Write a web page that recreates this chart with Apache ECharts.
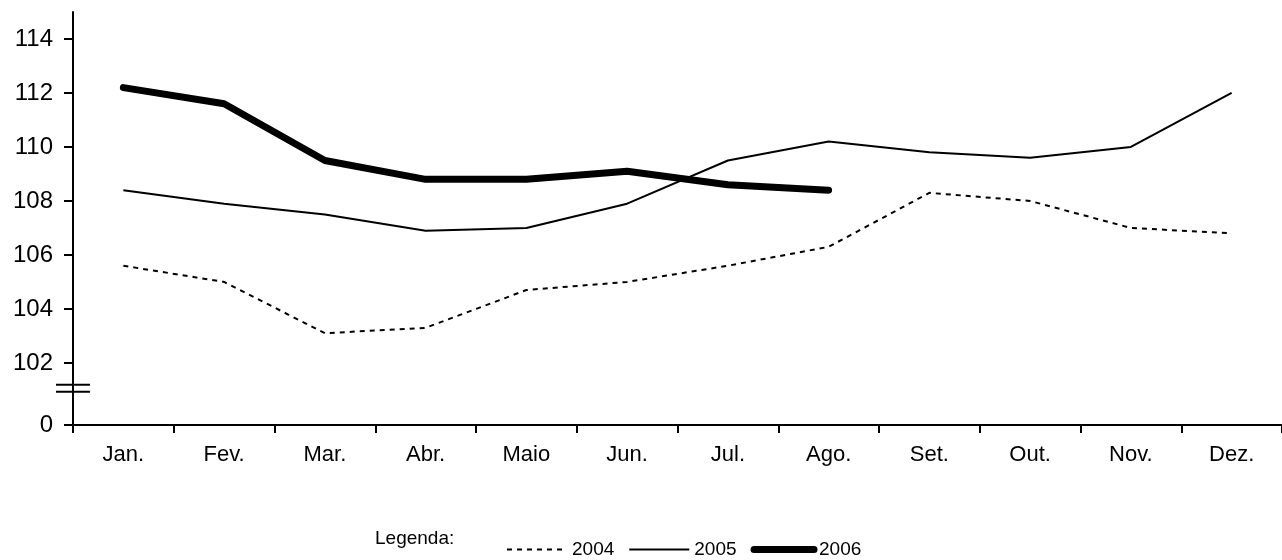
<!DOCTYPE html>
<html>
<head>
<meta charset="utf-8">
<script src="https://cdn.jsdelivr.net/npm/echarts@6/dist/echarts.min.js"></script>
<style>
  html, body { margin: 0; padding: 0; background: #fff; }
  #chart { width: 1282px; height: 560px; }
</style>
</head>
<body>
<div id="chart"></div>
<script>
var months = ['Jan.', 'Fev.', 'Mar.', 'Abr.', 'Maio', 'Jun.', 'Jul.', 'Ago.', 'Set.', 'Out.', 'Nov.', 'Dez.'];
var y2004 = [105.6, 105.0, 103.1, 103.3, 104.7, 105.0, 105.6, 106.3, 108.3, 108.0, 107.0, 106.8];
var y2005 = [108.4, 107.9, 107.5, 106.9, 107.0, 107.9, 109.5, 110.2, 109.8, 109.6, 110.0, 112.0];
var y2006 = [112.2, 111.6, 109.5, 108.8, 108.8, 109.1, 108.6, 108.4];
var yTicks = [99.7, 102, 104, 106, 108, 110, 112, 114];

var font = 'Liberation Sans, Arial, sans-serif';
var chart = echarts.init(document.getElementById('chart'));

var option = {
    animation: false,
    backgroundColor: '#fff',
    title: {
        text: 'Legenda:',
        left: 375,
        top: 529,
        padding: 0,
        textStyle: { fontFamily: font, fontSize: 19, fontWeight: 'normal', color: '#000' }
    },
    legend: {
        left: 506,
        top: 540,
        padding: 0,
        itemWidth: 60,
        itemHeight: 14,
        itemGap: 14,
        itemStyle: { opacity: 0 },
        lineStyle: { width: 'inherit', type: 'inherit' },
        textStyle: { fontFamily: font, fontSize: 19, color: '#000', padding: [2, 0, 0, 0] },
        data: ['2004', '2005', '2006']
    },
    grid: { left: 73, top: 12, width: 1218, height: 413 },
    xAxis: {
        type: 'category',
        data: months,
        boundaryGap: true,
        axisLine: { lineStyle: { color: '#000', width: 2 } },
        axisTick: { show: true, length: 8, lineStyle: { color: '#000', width: 2 } },
        axisLabel: { fontFamily: font, fontSize: 22, color: '#000', margin: 19 },
        splitLine: { show: false }
    },
    yAxis: {
        type: 'value',
        min: 99.7,
        max: 115,
        axisLine: { show: true, lineStyle: { color: '#000', width: 2 } },
        axisTick: { show: true, length: 9, customValues: yTicks, lineStyle: { color: '#000', width: 2 } },
        axisLabel: {
            fontFamily: font, fontSize: 24, color: '#000', margin: 20,
            customValues: yTicks,
            formatter: function (v) { return v < 100 ? '0' : String(v); }
        },
        splitLine: { show: false }
    },
    series: [
        {
            name: '2004', type: 'line', data: y2004, symbol: 'none',
            lineStyle: { color: '#000', width: 2, type: [5, 5] },
            itemStyle: { color: '#000' }
        },
        {
            name: '2005', type: 'line', data: y2005, symbol: 'none',
            lineStyle: { color: '#000', width: 2 },
            itemStyle: { color: '#000' }
        },
        {
            name: '2006', type: 'line', data: y2006, symbol: 'none',
            lineStyle: { color: '#000', width: 7, cap: 'round', join: 'round' },
            itemStyle: { color: '#000' }
        }
    ]
};
chart.setOption(option);

// axis break marks (two short lines across the y axis)
var p1 = chart.convertToPixel({ gridIndex: 0 }, [0, 101.19]);
var p2 = chart.convertToPixel({ gridIndex: 0 }, [0, 100.93]);
var axisX = 73;
chart.setOption({
    graphic: [
        { type: 'line', shape: { x1: axisX - 17, y1: p1[1], x2: axisX + 17, y2: p1[1] }, style: { stroke: '#000', lineWidth: 2 } },
        { type: 'line', shape: { x1: axisX - 17, y1: p2[1], x2: axisX + 17, y2: p2[1] }, style: { stroke: '#000', lineWidth: 2 } }
    ]
});
</script>
</body>
</html>
